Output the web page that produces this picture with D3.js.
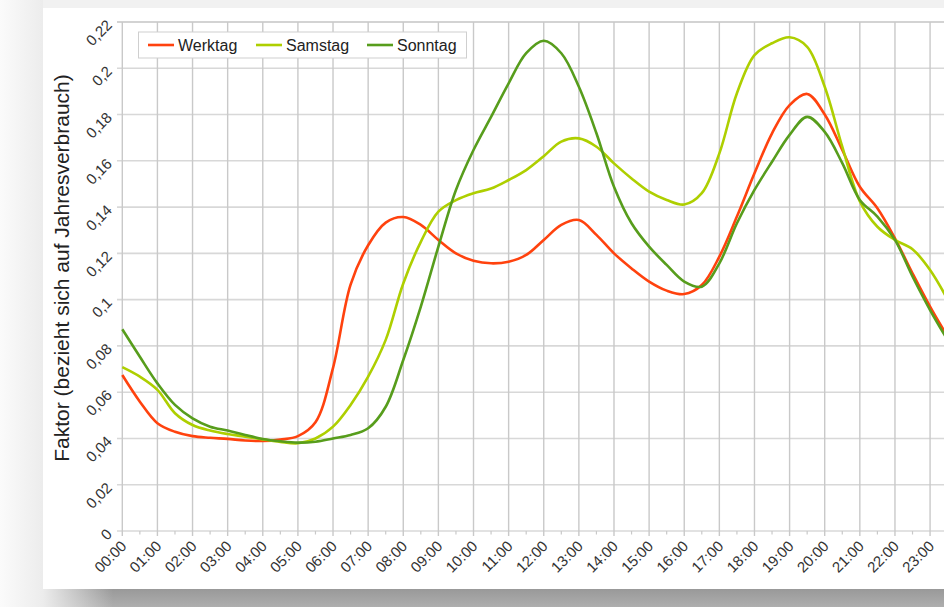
<!DOCTYPE html>
<html><head><meta charset="utf-8">
<script src="https://cdn.jsdelivr.net/npm/d3@7"></script>
<style>html,body{margin:0;padding:0;background:#f3f3f3;}svg{display:block;}</style>
</head><body>
<svg id="chart" width="944" height="607"></svg>
<script>
const seriesNames = ["Werktag", "Samstag", "Sonntag"];
const seriesColors = ["#ff420e", "#aecf00", "#579d1c"];
const times = ["00:00","00:30","01:00","01:30","02:00","02:30","03:00","03:30","04:00","04:30","05:00","05:30",
  "06:00","06:30","07:00","07:30","08:00","08:30","09:00","09:30","10:00","10:30","11:00","11:30",
  "12:00","12:30","13:00","13:30","14:00","14:30","15:00","15:30","16:00","16:30","17:00","17:30",
  "18:00","18:30","19:00","19:30","20:00","20:30","21:00","21:30","22:00","22:30","23:00","23:30"];
const werktag = [0.0674,0.0559,0.0466,0.0429,0.0410,0.0403,0.0398,0.0391,0.0389,0.0395,0.0410,0.0470,
  0.0705,0.1065,0.1235,0.1333,0.1357,0.1323,0.1258,0.1200,0.1168,0.1157,0.1164,0.1193,
  0.1258,0.1323,0.1344,0.1280,0.1200,0.1135,0.1078,0.1039,0.1024,0.1063,0.1186,0.1359,
  0.1546,0.1719,0.1841,0.1889,0.1800,0.1647,0.1488,0.1395,0.1265,0.1114,0.0970,0.0840];
const samstag = [0.0708,0.0667,0.0610,0.0509,0.0458,0.0434,0.0419,0.0408,0.0396,0.0385,0.0379,0.0400,
  0.0451,0.0545,0.0667,0.0826,0.1070,0.1250,0.1380,0.1430,0.1460,0.1480,0.1517,0.1560,
  0.1620,0.1683,0.1697,0.1661,0.1589,0.1524,0.1467,0.1431,0.1411,0.1460,0.1632,0.1892,
  0.2057,0.2108,0.2134,0.2093,0.1920,0.1661,0.1425,0.1315,0.1258,0.1218,0.1128,0.1000];
const sonntag = [0.0872,0.0753,0.0638,0.0545,0.0487,0.0451,0.0434,0.0415,0.0398,0.0388,0.0382,0.0386,
  0.0400,0.0415,0.0444,0.0537,0.0739,0.0970,0.1229,0.1474,0.1647,0.1790,0.1935,0.2065,
  0.2119,0.2065,0.1920,0.1719,0.1488,0.1330,0.1229,0.1150,0.1078,0.1056,0.1157,0.1330,
  0.1474,0.1596,0.1712,0.1790,0.1725,0.1590,0.1431,0.1359,0.1258,0.1100,0.0955,0.0825];
const hourLabels = ["00:00","01:00","02:00","03:00","04:00","05:00","06:00","07:00","08:00","09:00","10:00","11:00",
  "12:00","13:00","14:00","15:00","16:00","17:00","18:00","19:00","20:00","21:00","22:00","23:00"];
const yTicks = [0,0.02,0.04,0.06,0.08,0.10,0.12,0.14,0.16,0.18,0.20,0.22];
const yTickLabels = ["0","0,02","0,04","0,06","0,08","0,1","0,12","0,14","0,16","0,18","0,2","0,22"];
const yTitle = "Faktor (bezieht sich auf Jahresverbrauch)";

const toH = s => { const [h,m] = s.split(":").map(Number); return h + m/60; };
const svg = d3.select("#chart");
const W = 944, H = 607;
const x = d3.scaleLinear().domain([0,24]).range([122.3, 965.2]);
const y = d3.scaleLinear().domain([0,0.22]).range([531, 22]);
const font = "'Liberation Sans', Arial, sans-serif";

// frame / shadow
const defs = svg.append("defs");
const lg = defs.append("linearGradient").attr("id","leftg").attr("x1","0").attr("x2","1").attr("y1","0").attr("y2","0");
lg.append("stop").attr("offset","0").attr("stop-color","#fbfbfb");
lg.append("stop").attr("offset","1").attr("stop-color","#ececec");
const bg = defs.append("linearGradient").attr("id","botg").attr("x1","0").attr("x2","0").attr("y1","0").attr("y2","1");
bg.append("stop").attr("offset","0").attr("stop-color","#999999");
bg.append("stop").attr("offset","1").attr("stop-color","#aeaeae");
const bfade = defs.append("linearGradient").attr("id","bfade").attr("x1","0").attr("x2","1").attr("y1","0").attr("y2","0");
bfade.append("stop").attr("offset","0").attr("stop-color","#ececec").attr("stop-opacity",1);
bfade.append("stop").attr("offset","1").attr("stop-color","#ececec").attr("stop-opacity",0);

svg.append("rect").attr("width",W).attr("height",H).attr("fill","#f1f1f1");
svg.append("rect").attr("x",0).attr("y",0).attr("width",43).attr("height",H).attr("fill","url(#leftg)");
svg.append("rect").attr("x",43).attr("y",8).attr("width",W-43).attr("height",581).attr("fill","#ffffff");
svg.append("rect").attr("x",43).attr("y",589).attr("width",W-43).attr("height",18).attr("fill","url(#botg)");
svg.append("rect").attr("x",43).attr("y",589).attr("width",70).attr("height",18).attr("fill","url(#bfade)");

// grid
const g = svg.append("g");
g.selectAll("line.hg").data(yTicks).join("line")
  .attr("x1", 117).attr("x2", W).attr("y1", d => y(d)).attr("y2", d => y(d))
  .attr("stroke", (d,i) => i === yTicks.length-1 ? "#c4c4c4" : "#d8d8d8").attr("stroke-width", 1.6);
g.selectAll("line.vg").data(hourLabels).join("line")
  .attr("x1", d => x(toH(d))).attr("x2", d => x(toH(d)))
  .attr("y1", y(0.22)).attr("y2", y(0) + 5)
  .attr("stroke", "#c9c9c9").attr("stroke-width", 1.4);
g.selectAll("line.mt").data(hourLabels).join("line")
  .attr("x1", d => x(toH(d) + 0.5)).attr("x2", d => x(toH(d) + 0.5))
  .attr("y1", y(0)).attr("y2", y(0) + 3.5)
  .attr("stroke", "#c9c9c9").attr("stroke-width", 1.2);

// y labels
svg.selectAll("text.yl").data(yTicks).join("text")
  .attr("transform", (d) => `translate(113,${y(d)+4}) rotate(-45)`)
  .attr("text-anchor","end").attr("font-family",font).attr("font-size",15).attr("fill","#333")
  .text((d,i) => yTickLabels[i]);
// x labels
svg.selectAll("text.xl").data(hourLabels).join("text")
  .attr("transform", d => `translate(${x(toH(d))+5},${y(0)+16}) rotate(-45)`)
  .attr("text-anchor","end").attr("font-family",font).attr("font-size",15).attr("fill","#333")
  .text(d => d);
// y title
svg.append("text").attr("transform","translate(69,268) rotate(-90)")
  .attr("text-anchor","middle").attr("font-family",font).attr("font-size",21).attr("fill","#222")
  .text(yTitle);

// lines
const series = [werktag, samstag, sonntag];
const line = d3.line().x((d,i) => x(toH(times[i]))).y(d => y(d)).curve(d3.curveCatmullRom.alpha(0.5));
svg.append("g").selectAll("path").data(series).join("path")
  .attr("d", d => line(d)).attr("fill","none")
  .attr("stroke", (d,i) => seriesColors[i]).attr("stroke-width", 2.6).attr("stroke-linejoin","round");

// legend
const leg = svg.append("g");
leg.append("rect").attr("x",138.5).attr("y",32).attr("width",328).attr("height",26)
  .attr("fill","#fff").attr("stroke","#cfcfcf").attr("stroke-width",1);
const legX = [148, 256, 367];
seriesNames.forEach((n,i) => {
  leg.append("line").attr("x1",legX[i]).attr("x2",legX[i]+26).attr("y1",45).attr("y2",45)
    .attr("stroke",seriesColors[i]).attr("stroke-width",2.6);
  leg.append("text").attr("x",legX[i]+30).attr("y",50.5).attr("font-family",font).attr("font-size",16)
    .attr("fill","#222").text(n);
});
</script>
</body></html>
